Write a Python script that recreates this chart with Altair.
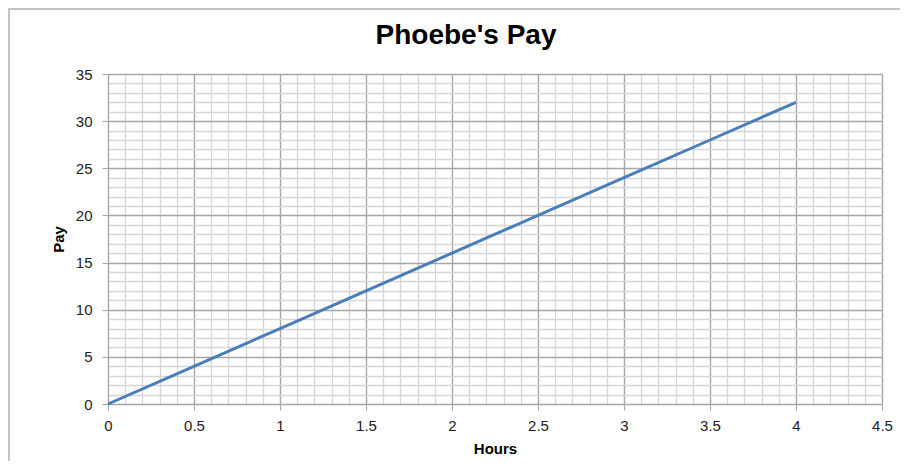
import altair as alt
import pandas as pd

# data
hours = [0, 0.5, 1, 1.5, 2, 2.5, 3, 3.5, 4]
pay = [0, 4, 8, 12, 16, 20, 24, 28, 32]
chart_title = "Phoebe's Pay"
x_title = "Hours"
y_title = "Pay"
x_ticks = [round(i * 0.1, 1) for i in range(46)]   # minor grid every 0.1, labels every 0.5
y_ticks = list(range(36))                          # minor grid every 1, labels every 5

df = pd.DataFrame({"Hours": hours, "Pay": pay})

W, H = 774, 330
MAJOR = "#a6a6a6"
MINOR = "#d6d6d6"
FONT = "Liberation Sans"

x_axis = alt.Axis(
    values=x_ticks,
    title=x_title,
    format="~g",
    labelExpr="datum.value % 0.5 === 0 ? datum.label : ''",
    labelOverlap=False,
    labelFlush=False,
    labelPadding=8,
    titlePadding=8,
    tickSize=6,
    tickColor=MAJOR,
    tickOpacity={"condition": {"test": "datum.value % 0.5 === 0", "value": 1}, "value": 0},
    gridColor={"condition": {"test": "datum.value % 0.5 === 0", "value": MAJOR}, "value": MINOR},
    gridWidth={"condition": {"test": "datum.value % 0.5 === 0", "value": 1.4}, "value": 1.3},
    domainColor=MAJOR,
)
y_axis = alt.Axis(
    values=y_ticks,
    title=y_title,
    format="~g",
    labelExpr="datum.value % 5 === 0 ? datum.label : ''",
    labelOverlap=False,
    labelFlush=False,
    labelPadding=10,
    titlePadding=9,
    tickSize=6,
    tickColor=MAJOR,
    tickOpacity={"condition": {"test": "datum.value % 5 === 0", "value": 1}, "value": 0},
    gridColor={"condition": {"test": "datum.value % 5 === 0", "value": MAJOR}, "value": MINOR},
    gridWidth={"condition": {"test": "datum.value % 5 === 0", "value": 1.4}, "value": 1.3},
    domainColor=MAJOR,
)

line = alt.Chart(df).mark_line(color="#4a7ebb", strokeWidth=3).encode(
    x=alt.X("Hours:Q", scale=alt.Scale(domain=[0, 4.5], nice=False), axis=x_axis),
    y=alt.Y("Pay:Q", scale=alt.Scale(domain=[0, 35], nice=False), axis=y_axis),
)

one = alt.Data(values=[{}])
frame_left = alt.Chart(one).mark_rule(color="#c4c4c4", strokeWidth=2).encode(
    x=alt.value(-99), y=alt.value(-66), y2=alt.value(387)
)
frame_top = alt.Chart(one).mark_rule(color="#c4c4c4", strokeWidth=2).encode(
    x=alt.value(-100), x2=alt.value(792), y=alt.value(-65)
)
title = alt.Chart(one).mark_text(
    text=chart_title, font=FONT, fontSize=28, fontWeight="bold",
    align="center", baseline="alphabetic", color="#000000"
).encode(x=alt.value(358), y=alt.value(-30.5))

chart = alt.layer(line, frame_left, frame_top, title).properties(
    width=W,
    height=H,
    autosize=alt.AutoSizeParams(type="none"),
    padding={"left": 100, "top": 66, "right": 18, "bottom": 57},
).configure_view(strokeWidth=0).configure_axis(
    labelFont=FONT, labelFontSize=15, labelColor="#222222",
    titleFont=FONT, titleFontSize=15, titleFontWeight="bold", titleColor="#000000",
)

chart.save("out.html", embed_options={"renderer": "svg", "actions": False})
